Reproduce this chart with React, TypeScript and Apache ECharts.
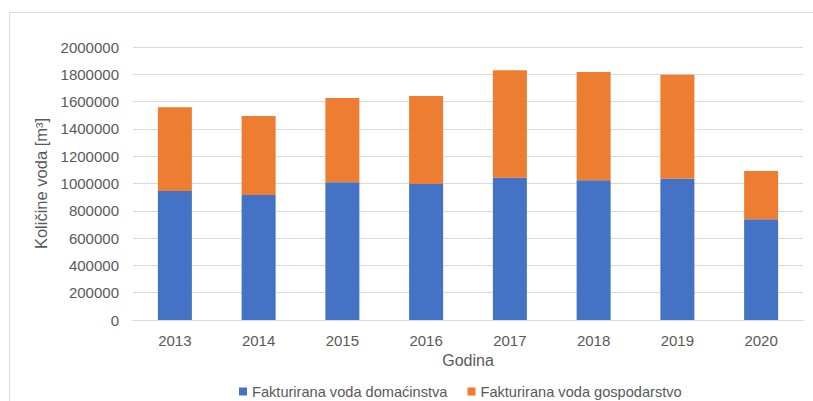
import React, { useEffect, useRef } from "react";
import * as echarts from "echarts";

const years = ["2013", "2014", "2015", "2016", "2017", "2018", "2019", "2020"];
const domacinstva = [945000, 916000, 1009000, 996000, 1043000, 1023000, 1035000, 738000];
const gospodarstvo = [613000, 578000, 617000, 645000, 786000, 794000, 762000, 354000];

const FONT = "Liberation Sans";
const TXT = "#595959";

export default function App() {
  const ref = useRef<HTMLDivElement>(null);
  useEffect(() => {
    const chart = echarts.init(ref.current!, null, { renderer: "svg" });
    chart.setOption({
      animation: false,
      textStyle: { fontFamily: FONT, color: TXT },
      graphic: [
        {
          type: "rect",
          shape: { x: 9.5, y: 12.5, width: 900, height: 500 },
          style: { fill: "none", stroke: "#D9D9D9", lineWidth: 1 },
          silent: true,
        },
      ],
      grid: { left: 133, right: 10, top: 47, bottom: 81 },
      legend: {
        top: 379,
        left: 234,
        itemWidth: 8,
        itemHeight: 8,
        itemGap: 20,
        icon: "rect",
        textStyle: { fontFamily: FONT, fontSize: 14.6, color: TXT },
        data: ["Fakturirana voda domaćinstva", "Fakturirana voda gospodarstvo"],
      },
      xAxis: {
        type: "category",
        data: years,
        name: "Godina",
        nameLocation: "middle",
        nameGap: 29,
        nameTextStyle: { fontFamily: FONT, fontSize: 16, color: TXT },
        axisLine: { lineStyle: { color: "#D9D9D9" } },
        axisTick: { show: false },
        axisLabel: { fontFamily: FONT, fontSize: 15, color: TXT, margin: 13 },
      },
      yAxis: {
        type: "value",
        min: 0,
        max: 2000000,
        interval: 200000,
        name: "Količine voda [m³]",
        nameLocation: "middle",
        nameGap: 72,
        nameTextStyle: { fontFamily: FONT, fontSize: 16.5, color: TXT },
        axisLine: { show: false },
        axisTick: { show: false },
        splitLine: { lineStyle: { color: "#D9D9D9" } },
        axisLabel: {
          fontFamily: FONT,
          fontSize: 15,
          color: TXT,
          margin: 14,
          formatter: (v: number) => String(v),
        },
      },
      series: [
        {
          name: "Fakturirana voda domaćinstva",
          type: "bar",
          stack: "a",
          barWidth: 34,
          data: domacinstva,
          itemStyle: { color: "#4472C4" },
        },
        {
          name: "Fakturirana voda gospodarstvo",
          type: "bar",
          stack: "a",
          barWidth: 34,
          data: gospodarstvo,
          itemStyle: { color: "#ED7D31" },
        },
      ],
    });
    return () => chart.dispose();
  }, []);
  return (
    <div
      ref={ref}
      style={{ position: "fixed", left: 0, top: 0, width: 813, height: 401, background: "#fff" }}
    />
  );
}
